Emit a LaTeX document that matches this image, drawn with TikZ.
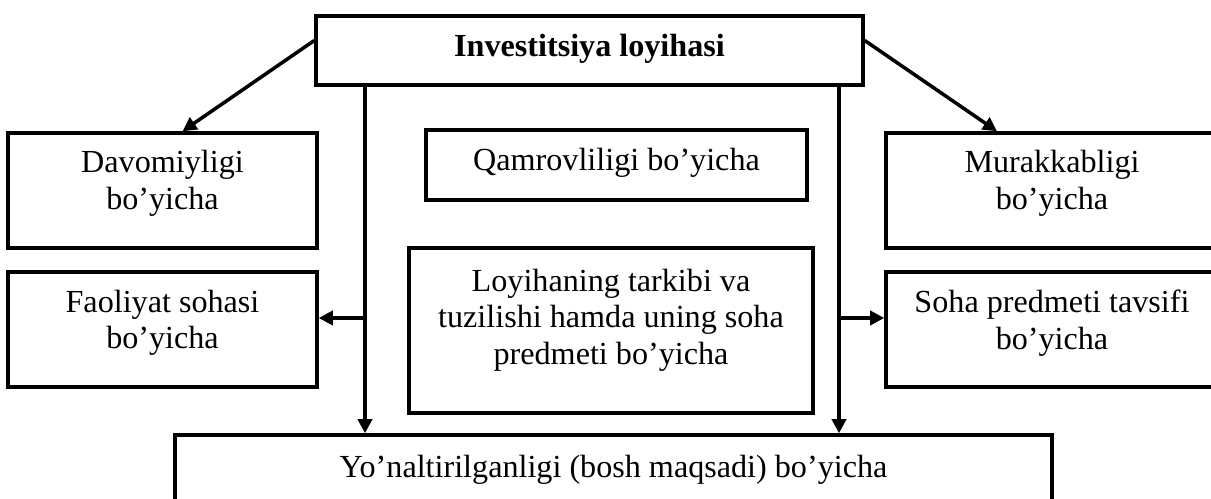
\documentclass[tikz,border=0pt]{standalone}
\usepackage{fontspec}
\setmainfont{Liberation Serif}
\usetikzlibrary{arrows.meta}
\newcommand{\lowpad}[1]{\rule[-#1]{0pt}{0pt}}

\begin{document}
\begin{tikzpicture}[x=0.02cm, y=-0.02cm, line width=2pt,
box/.style={draw, align=center, inner sep=0pt,
font=\fontsize{18.3pt}{20.8pt}\selectfont},
>={Triangle[length=8pt,width=8pt]}]
\useasboundingbox (0,0) rectangle (1211,499);
\node [box, minimum width=10.94cm, minimum height=1.38cm] (invest) at (589.5,50.5) {\textbf{Investitsiya loyihasi}\lowpad{0.2cm}};
\node [box, minimum width=6.18cm, minimum height=2.3cm] (davom) at (162.5,190.5) {Davomiyligi\\bo’yicha\lowpad{0.42cm}};
\node [box, minimum width=7.62cm, minimum height=1.4cm] (qamrov) at (616.5,165) {Qamrovliligi bo’yicha\lowpad{0.22cm}};
\node [box, minimum width=6.64cm, minimum height=2.3cm] (murak) at (1052,190.5) {Murakkabligi\\bo’yicha\lowpad{0.42cm}};
\node [box, minimum width=6.18cm, minimum height=2.3cm] (faol) at (162.5,329.5) {Faoliyat sohasi\\bo’yicha\lowpad{0.4cm}};
\node [box, minimum width=8.08cm, minimum height=3.3cm] (loyiha) at (611,330.5) {Loyihaning tarkibi va\\tuzilishi hamda uning soha\\predmeti bo’yicha\lowpad{0.56cm}};
\node [box, minimum width=6.64cm, minimum height=2.3cm] (soha) at (1052,329.5) {Soha predmeti tavsifi\\bo’yicha\lowpad{0.4cm}};
\node [box, minimum width=17.54cm, minimum height=1.4cm] (yonal) at (613.5,470) {Yo’naltirilganligi (bosh maqsadi) bo’yicha};
\coordinate (sp_l) at (365,318);
\coordinate (sp_r) at (839,318);
\path [->]
([yshift=0.2cm]invest.west) edge ([xshift=0.4cm]davom.north)
([yshift=0.2cm]invest.east) edge ([xshift=-1.1cm]murak.north)
(sp_l |- invest.south) edge (sp_l |- yonal.north)
(sp_r |- invest.south) edge (sp_r |- yonal.north)
(sp_l) edge (sp_l -| faol.east)
(sp_r) edge (sp_r -| soha.west);
\end{tikzpicture}
\end{document}
